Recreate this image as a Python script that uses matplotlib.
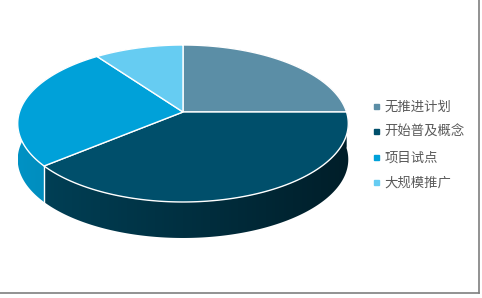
import numpy as np
import matplotlib
matplotlib.use("Agg")
import matplotlib.pyplot as plt
from matplotlib.patches import Polygon
from matplotlib.lines import Line2D
from matplotlib.colors import LinearSegmentedColormap

plt.rcParams['font.family'] = ['Noto Sans CJK SC', 'DejaVu Sans']

# data
labels = ['无推进计划', '开始普及概念', '项目试点', '大规模推广']
values = [25, 39, 26, 10]
top_colors = ['#5B8EA6', '#004F6B', '#00A1D9', '#66CCF2']
side_colors = [('#4A7890', '#2E5060'), ('#003F55', '#001E29'),
               ('#0092C4', '#0084B2'), ('#4FB5DB', '#3FA0C4')]

# projection of the tilted disc (simple perspective)
cx, cy = 183.0, 112.0
R, S, a = 163.5, 76.8, 0.1465
depth = 36


def proj(phi, dz=0.0):
    u = np.sin(phi)
    v = np.cos(phi)
    w = 1 + a * v
    return cx + R * u / w, cy - S * v / w + dz


fig = plt.figure(figsize=(4.82, 2.98), dpi=100)
ax = fig.add_axes([0, 0, 1, 1])
ax.set_xlim(0, 482)
ax.set_ylim(298, 0)
ax.axis('off')

frac = np.array(values, dtype=float) / sum(values)
bounds = np.concatenate([[0], np.cumsum(frac)]) * 2 * np.pi

# side walls with horizontal gradient
grad = np.linspace(0, 1, 256).reshape(1, -1)
for i in range(len(values)):
    t = np.linspace(bounds[i], bounds[i + 1], 200)
    xt, yt = proj(t)
    xb, yb = proj(t, depth)
    pts = np.column_stack([np.concatenate([xt, xb[::-1]]),
                           np.concatenate([yt, yb[::-1]])])
    poly = Polygon(pts, closed=True, facecolor='none', edgecolor='none')
    ax.add_patch(poly)
    cmap = LinearSegmentedColormap.from_list('s%d' % i, side_colors[i])
    im = ax.imshow(grad, cmap=cmap, extent=[pts[:, 0].min(), pts[:, 0].max(),
                                            pts[:, 1].max(), pts[:, 1].min()],
                   aspect='auto', zorder=1, interpolation='bilinear')
    im.set_clip_path(poly)

# white seams on the visible side
for b in bounds[1:-1]:
    if np.cos(b) < -a:
        x0, y0 = proj(b)
        x1, y1 = proj(b, depth)
        ax.plot([x0, x1], [y0, y1], color='white', lw=1, zorder=2)

# top faces
for i in range(len(values)):
    t = np.linspace(bounds[i], bounds[i + 1], 200)
    xt, yt = proj(t)
    pts = np.column_stack([np.concatenate([[cx], xt]),
                           np.concatenate([[cy], yt])])
    ax.add_patch(Polygon(pts, closed=True, facecolor=top_colors[i],
                         edgecolor='white', lw=1, zorder=3))

# chart border (right and bottom)
ax.plot([479, 479], [0, 293], color='#7F7F7F', lw=1.2, zorder=4)
ax.plot([0, 479], [293, 293], color='#7F7F7F', lw=1.2, zorder=4)

handles = [Line2D([], [], marker='s', linestyle='none', markersize=3.6,
                  markerfacecolor=c, markeredgecolor=c) for c in top_colors]
leg = ax.legend(handles, labels, loc='center left', bbox_to_anchor=(0.761, 0.515),
                frameon=False, fontsize=9.6, labelspacing=0.86, handlelength=0.45,
                handletextpad=0.4, borderpad=0)
for txt in leg.get_texts():
    txt.set_color('#595959')

fig.savefig('out.png', dpi=100)
